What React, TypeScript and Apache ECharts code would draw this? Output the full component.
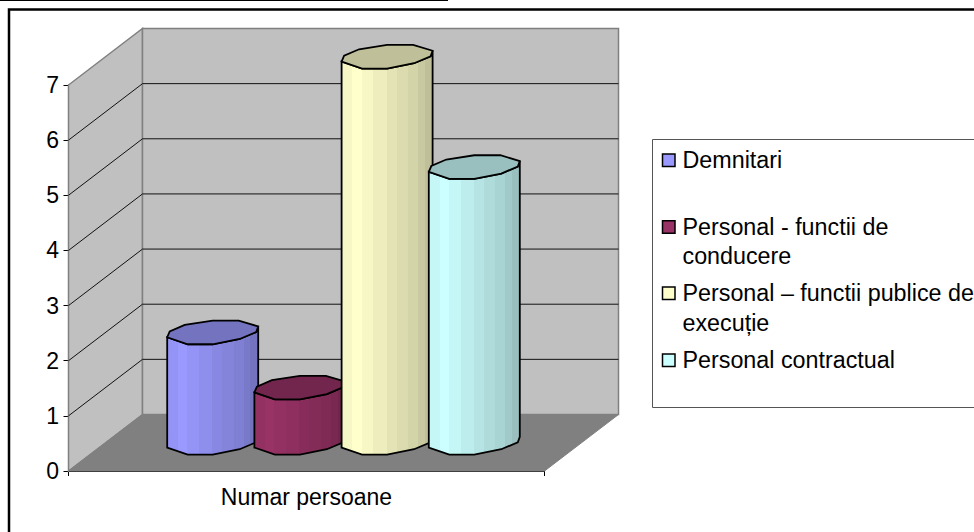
import React, { useEffect, useRef } from "react";
import * as echarts from "echarts";

const categories = ["Numar persoane"];
const seriesNames = ["Demnitari", "Personal - functii de conducere", "Personal – functii publice de execuție", "Personal contractual"];
const seriesValues = [2, 1, 7, 5];
const seriesColors = ["#9999FF", "#993366", "#FFFFCC", "#CCFFFF"];
const yTicks = [0, 1, 2, 3, 4, 5, 6, 7];
const legendLines = [["Demnitari"], ["Personal - functii de", "conducere"], ["Personal – functii publice de", "execuție"], ["Personal contractual"]];
const legendTops = [160, 226.7, 293, 360];
const FONT = "Liberation Sans";
const FS = 23;
const LEGEND_FS = 23.3;

const DX = 74, DY = -56.5;
const BAR_STEP = 87.2;
const topShape = [[-45.5,4.8],[-43,-1],[-28,-7.5],[0,-11.8],[26,-11.8],[45.5,-6],[43.5,-0.5],[27,6.5],[0,11.8],[-25,11.8]];
const stripEdges = [0, .118, .22, .35, .495, .605, .73, .84, .915, 1];
const stripShade = [.97, 1, .97, .93, .89, .86, .83, .79, .75];

function mul(hex: string, f: number) {
  const n = parseInt(hex.slice(1), 16);
  const c = [(n >> 16) & 255, (n >> 8) & 255, n & 255].map((v) => Math.round(v * f));
  return `rgb(${c[0]},${c[1]},${c[2]})`;
}

function wallItem(_p: any, api: any) {
  const o = api.coord([0, 0]);
  const bw = api.size([1, 0])[0];
  const t = api.coord([0, 7]);
  const x0 = o[0] - bw / 2, x1 = o[0] + bw / 2, y0 = o[1], y7 = t[1];
  const grey = "#C0C0C0", edge = "#808080";
  const children: any[] = [
    { type: "polygon", shape: { points: [[x0, y0], [x0 + DX, y0 + DY], [x0 + DX, y7 + DY], [x0, y7]] }, style: { fill: grey, stroke: edge, lineWidth: 1.5 } },
    { type: "polygon", shape: { points: [[x0 + DX, y0 + DY], [x1 + DX, y0 + DY], [x1 + DX, y7 + DY], [x0 + DX, y7 + DY]] }, style: { fill: grey, stroke: edge, lineWidth: 1.5 } },
    { type: "polygon", shape: { points: [[x0, y0], [x1, y0], [x1 + DX, y0 + DY], [x0 + DX, y0 + DY]] }, style: { fill: "#808080", stroke: edge, lineWidth: 1 } },
  ];
  yTicks.forEach((v) => {
    if (v === 0 || v === 7) return;
    const y = api.coord([0, v])[1];
    children.push({ type: "polyline", shape: { points: [[x0, y], [x0 + DX, y + DY], [x1 + DX, y + DY]] }, style: { fill: "none", stroke: "#111", lineWidth: 1 } });
  });
  return { type: "group", children };
}

function cylinderItem(index: number) {
  return (_p: any, api: any) => {
    const base = api.coord([0, 0]);
    const top = api.coord([0, api.value(1)]);
    const col = seriesColors[index];
    const cx = base[0] + DX / 2 + (index - 1.5) * BAR_STEP;
    const by = base[1] + DY / 2;
    const ty = top[1] + DY / 2;
    const pts = (y: number) => topShape.map((p) => [cx + p[0], y + p[1]]);
    const t = pts(ty), b = pts(by);
    const body = [t[0], t[9], t[8], t[7], t[6], t[5], b[5], b[6], b[7], b[8], b[9], b[0]];
    const stops: any[] = [];
    stripShade.forEach((f, i) => {
      stops.push({ offset: stripEdges[i], color: mul(col, f) }, { offset: stripEdges[i + 1], color: mul(col, f) });
    });
    return {
      type: "group",
      children: [
        { type: "polygon", shape: { points: body }, style: { fill: { type: "linear", x: 0, y: 0, x2: 1, y2: 0, colorStops: stops }, stroke: "#000", lineWidth: 1.8 } },
        { type: "polygon", shape: { points: t }, style: { fill: mul(col, 0.75), stroke: "#000", lineWidth: 1.8 } },
      ],
    };
  };
}

export default function App() {
  const ref = useRef<HTMLDivElement>(null);
  useEffect(() => {
    document.body.style.margin = "0";
    document.body.style.overflow = "hidden";
    const chart = echarts.init(ref.current!, null, { renderer: "svg" });
    const legendGraphics: any[] = [];
    legendLines.forEach((lines, i) => {
      legendGraphics.push({ type: "rect", shape: { x: 662.5, y: legendTops[i] - 6, width: 12.5, height: 12.5 }, style: { fill: seriesColors[i], stroke: "#000", lineWidth: 1.5 } });
      lines.forEach((l, j) => {
        legendGraphics.push({ type: "text", x: 682.5, y: legendTops[i] + j * 29.5, style: { text: l, font: `${LEGEND_FS}px "${FONT}"`, fill: "#000", verticalAlign: "middle" } });
      });
    });
    chart.setOption({
      animation: false,
      backgroundColor: "#fff",
      grid: { left: 68.5, top: 85, width: 476, height: 386 },
      xAxis: {
        type: "category", data: categories,
        axisLine: { lineStyle: { color: "#000", width: 1 } },
        axisTick: { show: true, length: 5, lineStyle: { color: "#000" } },
        axisLabel: { color: "#000", fontFamily: FONT, fontSize: FS, margin: 14 },
      },
      yAxis: {
        type: "value", min: 0, max: 7, interval: 1,
        axisLine: { show: true, lineStyle: { color: "#000", width: 1 } },
        axisTick: { show: true, length: 5, lineStyle: { color: "#000" } },
        axisLabel: { color: "#000", fontFamily: FONT, fontSize: FS, margin: 9.5 },
        splitLine: { show: false },
      },
      graphic: [
        { type: "rect", shape: { x: 9, y: 9.5, width: 1000, height: 600 }, style: { fill: "none", stroke: "#000", lineWidth: 2.5 } },
        { type: "rect", shape: { x: 0, y: 0, width: 448, height: 1 }, style: { fill: "#000" } },
        { type: "rect", shape: { x: 652.5, y: 139.5, width: 400, height: 268 }, style: { fill: "#fff", stroke: "#555", lineWidth: 1 } },
        ...legendGraphics,
      ],
      series: [
        { type: "custom", silent: true, z: 1, coordinateSystem: "cartesian2d", renderItem: wallItem, data: [[0, 7]], encode: { x: 0, y: 1 } },
        ...seriesNames.map((name, i) => ({
          name, type: "custom", z: 2 + i, coordinateSystem: "cartesian2d", renderItem: cylinderItem(i),
          data: [[0, seriesValues[i]]], encode: { x: 0, y: 1 },
        })),
      ],
    });
    return () => chart.dispose();
  }, []);
  return <div ref={ref} style={{ width: 974, height: 532 }} />;
}
